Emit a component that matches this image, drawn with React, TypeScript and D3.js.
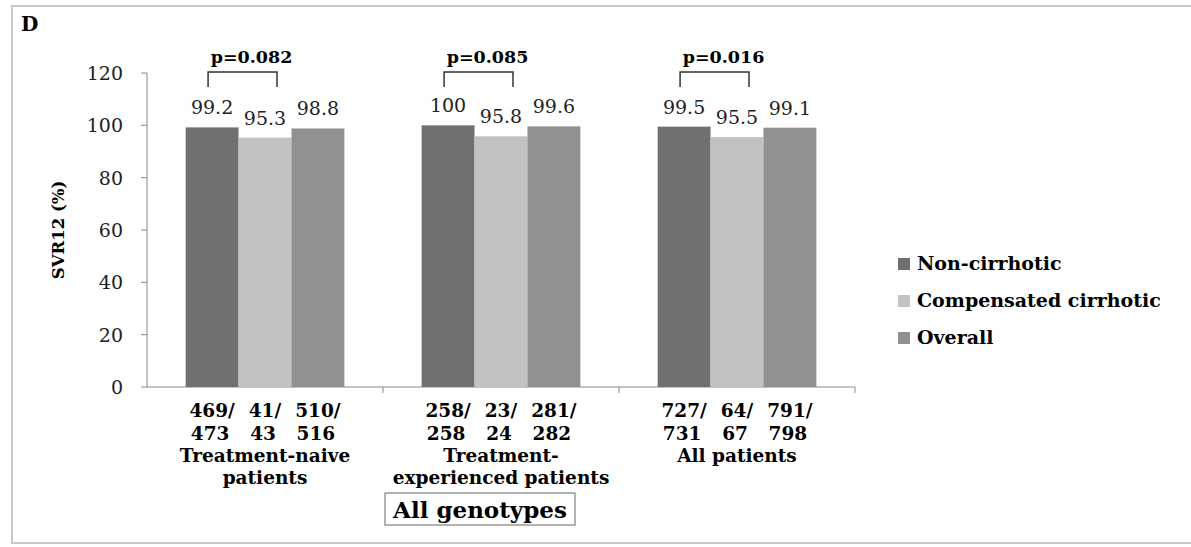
import React from "react";
import * as d3 from "d3";

const groups = ["Treatment-naive patients", "Treatment-experienced patients", "All patients"];
const groupLabelLines = [["Treatment-naive", "patients"], ["Treatment-", "experienced patients"], ["All patients"]];
const seriesNames = ["Non-cirrhotic", "Compensated cirrhotic", "Overall"];
const seriesColors = ["#707070", "#c2c2c2", "#919191"];
const values = [
  [99.2, 95.3, 98.8],
  [100, 95.8, 99.6],
  [99.5, 95.5, 99.1],
];
const valueLabels = [
  ["99.2", "95.3", "98.8"],
  ["100", "95.8", "99.6"],
  ["99.5", "95.5", "99.1"],
];
const counts = [
  [["469/", "473"], ["41/", "43"], ["510/", "516"]],
  [["258/", "258"], ["23/", "24"], ["281/", "282"]],
  [["727/", "731"], ["64/", "67"], ["791/", "798"]],
];
const pValues = ["p=0.082", "p=0.085", "p=0.016"];
const yTicks = [0, 20, 40, 60, 80, 100, 120];

export default function App() {
  const W = 1191, H = 547;
  const left = 147, right = 855, top = 73, bottom = 387;
  const x0 = d3.scaleBand().domain(groups).range([left, right]).paddingInner(0).paddingOuter(0);
  const x1 = d3.scaleBand().domain(seriesNames).range([0, x0.bandwidth()]).paddingInner(0).paddingOuter(0.73);
  const y = d3.scaleLinear().domain([0, 120]).range([bottom, top]);
  const font = "'DejaVu Serif', serif";
  return (
    <svg width={W} height={H} style={{ position: "absolute", left: 0, top: 0, background: "#fff", fontFamily: font }}>
      <rect x={12} y={6} width={1200} height={537} fill="none" stroke="#c8c8c8" strokeWidth={2} />
      <text x={21} y={31} fontSize={20} fontWeight="bold">D</text>
      <line x1={left} x2={left} y1={top} y2={bottom} stroke="#888" />
      <line x1={left} x2={right} y1={bottom} y2={bottom} stroke="#888" />
      {yTicks.map((t) => (
        <g key={t}>
          <line x1={left - 6} x2={left} y1={y(t)} y2={y(t)} stroke="#888" />
          <text x={left - 24} y={y(t) + 7} textAnchor="end" fontSize={19} fill="#222">{t}</text>
        </g>
      ))}
      {groups.map((g) => (
        <line key={g} x1={x0(g)! + x0.bandwidth()} x2={x0(g)! + x0.bandwidth()} y1={bottom} y2={bottom + 6} stroke="#888" />
      ))}
      <text transform={`translate(64,230) rotate(-90)`} textAnchor="middle" fontSize={16.5} fontWeight="bold">SVR12 (%)</text>
      {groups.map((g, gi) => {
        const gx = x0(g)!;
        const b0 = gx + x1(seriesNames[0])! + x1.bandwidth() / 2;
        const b1 = gx + x1(seriesNames[1])! + x1.bandwidth() / 2;
        return (
          <g key={g}>
            {seriesNames.map((s, si) => {
              const bx = gx + x1(s)!;
              const v = values[gi][si];
              return (
                <g key={s}>
                  <rect x={bx} y={y(v)} width={x1.bandwidth()} height={bottom - y(v)} fill={seriesColors[si]} />
                  <text x={bx + x1.bandwidth() / 2} y={y(v) - 13} textAnchor="middle" fontSize={19} fill="#222">{valueLabels[gi][si]}</text>
                  <text x={bx + x1.bandwidth() / 2} y={417} textAnchor="middle" fontSize={18.5} fontWeight="bold">{counts[gi][si][0]}</text>
                  <text x={bx + x1.bandwidth() / 2 - 2} y={440} textAnchor="middle" fontSize={18.5} fontWeight="bold">{counts[gi][si][1]}</text>
                </g>
              );
            })}
            <path d={`M${b0 - 4},87 V72 H${b1 + 12} V87`} fill="none" stroke="#333" strokeWidth={1.5} />
            <text x={(b0 + b1) / 2 + 13} y={63} textAnchor="middle" fontSize={17.5} fontWeight="bold">{pValues[gi]}</text>
            {groupLabelLines[gi].map((ln, li) => (
              <text key={li} x={gx + x0.bandwidth() / 2} y={462 + li * 22} textAnchor="middle" fontSize={18.5} fontWeight="bold">{ln}</text>
            ))}
          </g>
        );
      })}
      <rect x={385} y={493} width={190} height={32} fill="#fff" stroke="#666" />
      <text x={480} y={518} textAnchor="middle" fontSize={23} fontWeight="bold">All genotypes</text>
      {seriesNames.map((s, i) => (
        <g key={s}>
          <rect x={898} y={258 + i * 37} width={12} height={12} fill={seriesColors[i]} />
          <text x={917} y={270 + i * 37} fontSize={19} fontWeight="bold">{s}</text>
        </g>
      ))}
    </svg>
  );
}
